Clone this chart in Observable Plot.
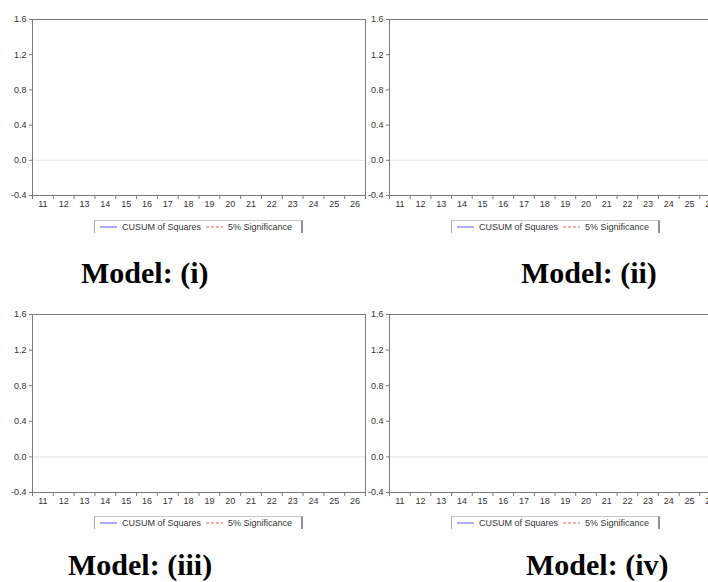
<!DOCTYPE html>
<html>
<head>
<meta charset="utf-8">
<script src="https://cdn.jsdelivr.net/npm/d3@7"></script>
<script src="https://cdn.jsdelivr.net/npm/@observablehq/plot@0.6"></script>
<style>
  html, body { margin: 0; padding: 0; background: #fff; }
  #wrap { position: relative; width: 708px; height: 582px; overflow: hidden; background: #fff; }
  .panel { position: absolute; }
  .legend {
    position: absolute; height: 13px; box-sizing: border-box;
    border-top: 1px solid #c8c8c8; border-left: 1px solid #a8a8a8; border-right: 2px solid #909090;
    font-family: "Liberation Sans", Arial, sans-serif; font-size: 9px; color: #333;
    display: flex; align-items: center; white-space: nowrap; background: #fff;
  }
  .legend svg { display: inline-block; margin: 0 5px 0 5px; }
  .title {
    position: absolute; font-family: "Liberation Serif", "Times New Roman", serif;
    font-weight: bold; font-size: 30px; line-height: 24px; color: #000; white-space: nowrap;
  }
</style>
</head>
<body>
<div id="wrap"></div>
<script>
// ---- data ----
const categories = [11, 12, 13, 14, 15, 16, 17, 18, 19, 20, 21, 22, 23, 24, 25, 26];
const yTicks = [-0.4, 0.0, 0.4, 0.8, 1.2, 1.6];
const yDomain = [-0.4, 1.6];
// the series are listed in the legend but no line is visible in the reference
const cusumSquares = [];
const sigUpper = [];
const sigLower = [];
const legendLabels = ["CUSUM of Squares", "5% Significance"];
const legendColors = ["#5b5bff", "#ff5b5b"];
const modelTitles = ["Model: (i)", "Model: (ii)", "Model: (iii)", "Model: (iv)"];

const boundaries = [categories[0] - 0.5, ...categories.map(c => c + 0.5)];
const wrap = document.getElementById("wrap");

// panel layout: [svgLeft, plotTop, plotHeight, plotWidth, legendTop, titleLeft, titleTop]
const layout = [
  [0,   19, 176, 333, 220, 81, 261],
  [357, 19, 176, 331, 220, 521, 261],
  [0,   314, 178, 333, 516, 68, 553],
  [357, 314, 178, 331, 516, 526, 553]
];

layout.forEach(([sx, pt, ph, pw, lt, tx, ty], i) => {
  const mL = 32, mB = 24;
  const chart = Plot.plot({
    width: mL + pw + 8,
    height: pt + ph + mB,
    marginLeft: mL,
    marginRight: 8,
    marginTop: pt,
    marginBottom: mB,
    x: { type: "linear", domain: [boundaries[0], boundaries[boundaries.length - 1]], label: null },
    y: { domain: yDomain, label: null },
    style: {
      fontFamily: "'Liberation Sans', Arial, sans-serif",
      fontSize: "9px",
      color: "#333",
      background: "transparent",
      overflow: "visible",
      maxWidth: "none"
    },
    marks: [
      Plot.ruleY([0], { stroke: "#e4e4e4" }),
      Plot.line(sigUpper, { x: "t", y: "v", stroke: legendColors[1], strokeDasharray: "3,2" }),
      Plot.line(sigLower, { x: "t", y: "v", stroke: legendColors[1], strokeDasharray: "3,2" }),
      Plot.line(cusumSquares, { x: "t", y: "v", stroke: legendColors[0] }),
      Plot.frame({ stroke: "#7a7a7a" }),
      Plot.axisY(yTicks, { label: null, tickSize: 3, tickPadding: 3, tickFormat: d => d.toFixed(1), stroke: "#7a7a7a", fill: "#333" }),
      Plot.axisX(boundaries, { label: null, tickSize: 4, tickFormat: () => "", stroke: "#7a7a7a" }),
      Plot.axisX(categories, { label: null, tickSize: 0, tickPadding: 5, tickFormat: d => String(d), fill: "#333" })
    ]
  });
  const holder = document.createElement("div");
  holder.className = "panel";
  holder.style.left = sx + "px";
  holder.style.top = "0px";
  holder.appendChild(chart);
  wrap.appendChild(holder);

  // legend
  const lg = document.createElement("div");
  lg.className = "legend";
  lg.style.left = (sx + mL + 62) + "px";
  lg.style.top = lt + "px";
  lg.style.width = "209px";
  legendLabels.forEach((lab, j) => {
    const sw = document.createElementNS("http://www.w3.org/2000/svg", "svg");
    sw.setAttribute("width", "17");
    sw.setAttribute("height", "4");
    const ln = document.createElementNS("http://www.w3.org/2000/svg", "line");
    ln.setAttribute("x1", "0"); ln.setAttribute("x2", "17");
    ln.setAttribute("y1", "2"); ln.setAttribute("y2", "2");
    ln.setAttribute("stroke", legendColors[j]);
    ln.setAttribute("stroke-width", "1");
    if (j === 1) ln.setAttribute("stroke-dasharray", "3,2");
    sw.appendChild(ln);
    lg.appendChild(sw);
    const sp = document.createElement("span");
    sp.textContent = lab;
    lg.appendChild(sp);
  });
  wrap.appendChild(lg);

  // title
  const t = document.createElement("div");
  t.className = "title";
  t.style.left = tx + "px";
  t.style.top = ty + "px";
  t.textContent = modelTitles[i];
  wrap.appendChild(t);
});
</script>
</body>
</html>
